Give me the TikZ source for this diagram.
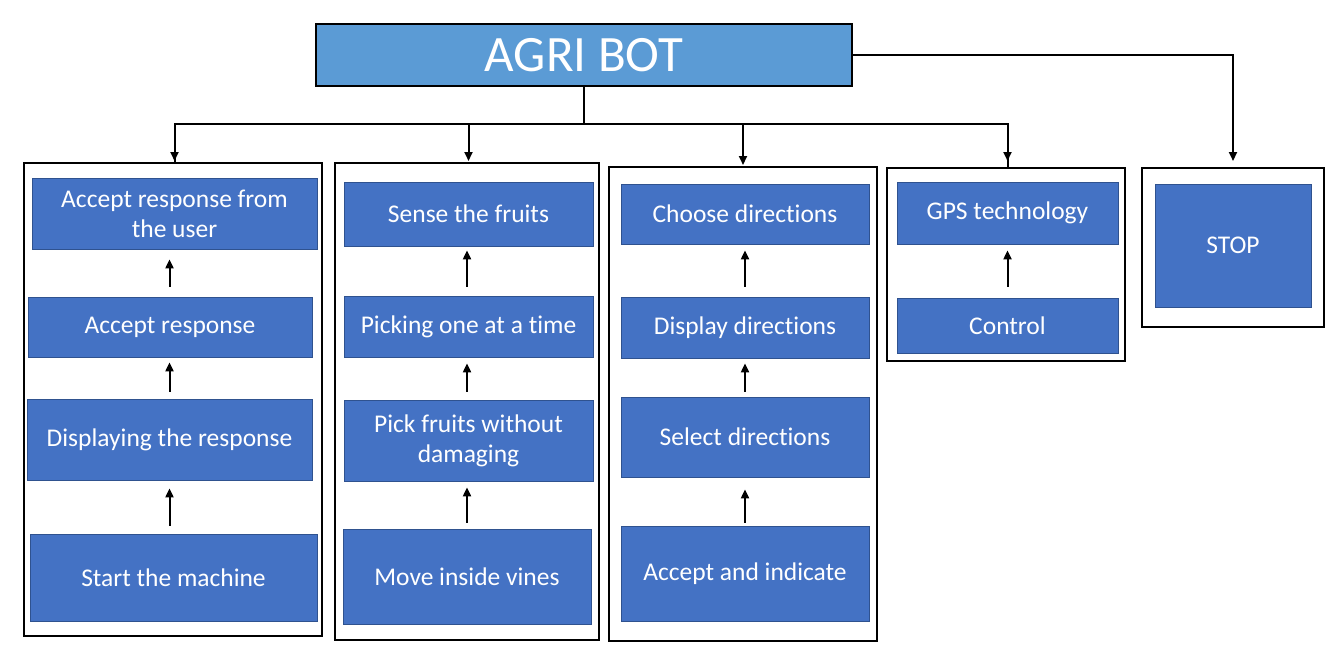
\documentclass[tikz,border=0pt]{standalone}
\usepackage{fontspec}
\setmainfont{Carlito}[Ligatures={NoCommon}]
\usetikzlibrary{arrows.meta}
\definecolor{boxblue}{HTML}{4472C4}
\definecolor{boxedge}{HTML}{2F528F}
\definecolor{titleblue}{HTML}{5B9BD5}
\tikzset{
  blk/.style={draw=boxedge, line width=0.8pt, fill=boxblue, text=white, inner sep=0pt,
    align=center, font=\fontsize{25.5}{30}\selectfont},
  outerbox/.style={draw=black, line width=2pt, inner sep=0pt},
  titlebox/.style={draw=black, line width=2pt, fill=titleblue, text=white, inner sep=0pt,
    font=\fontsize{51}{58}\selectfont},
  conn/.style={draw=black, line width=2pt},
  arr/.style={draw=black, line width=2pt, -{Triangle[length=9pt,width=8pt]}}
}
\begin{document}
\begin{tikzpicture}[x=1pt,y=-1pt]
\useasboundingbox (0,0) rectangle (1334,661);
% title
\node[titlebox, minimum width=536pt, minimum height=62pt] (title) at (584,55) {AGRI BOT};
% outer boxes
\node[outerbox, minimum width=298pt, minimum height=473pt] (o1) at (173,399.5) {};
\node[outerbox, minimum width=264pt, minimum height=477pt] (o2) at (467,401.5) {};
\node[outerbox, minimum width=268pt, minimum height=474pt] (o3) at (743,404) {};
\node[outerbox, minimum width=238pt, minimum height=193pt] (o4) at (1006,264.5) {};
\node[outerbox, minimum width=182pt, minimum height=159pt] (o5) at (1233,247.5) {};
% column 1
\node[blk, minimum width=285pt, minimum height=71pt] (a1) at (174.5,213.5) {Accept response from\\the user};
\node[blk, minimum width=284pt, minimum height=60pt] (a2) at (170,327) {Accept response};
\node[blk, minimum width=285pt, minimum height=81pt] (a3) at (169.5,439.5) {Displaying the response};
\node[blk, minimum width=287pt, minimum height=87pt] (a4) at (173.5,577.5) {Start the machine};
% column 2
\node[blk, minimum width=249pt, minimum height=64pt] (b1) at (468.5,214) {Sense the fruits};
\node[blk, minimum width=249pt, minimum height=61pt] (b2) at (468.5,326.5) {Picking one at a time};
\node[blk, minimum width=249pt, minimum height=81pt] (b3) at (468.5,440.5) {Pick fruits without\\damaging};
\node[blk, minimum width=248pt, minimum height=95pt] (b4) at (467,576.5) {Move inside vines};
% column 3
\node[blk, minimum width=248pt, minimum height=60pt] (c1) at (745,214) {Choose directions};
\node[blk, minimum width=248pt, minimum height=61pt] (c2) at (745,327.5) {Display directions};
\node[blk, minimum width=248pt, minimum height=80pt] (c3) at (745,437) {Select directions};
\node[blk, minimum width=248pt, minimum height=95pt] (c4) at (745,573.5) {Accept and indicate};
% column 4
\node[blk, minimum width=221pt, minimum height=62pt] (d1) at (1007.5,213) {GPS technology};
\node[blk, minimum width=221pt, minimum height=55pt] (d2) at (1007.5,325.5) {Control};
% column 5
\node[blk, minimum width=156pt, minimum height=123pt] (stop) at (1233,245.5) {STOP};
% tree connectors
\coordinate (j) at (584,124);
\draw[conn] (title.south) -- (j);
\draw[conn] (o1.north -| a1.north) |- (j) -| (o4.north -| d1.north);
\draw[arr, shorten >=1pt] (o1.north -| a1.north) ++(0,-39) -- (o1.north -| a1.north);
\draw[arr, shorten >=1pt] (j -| b1.north) -- (o2.north -| b1.north);
\draw[arr, shorten >=1pt] (j -| o3.north) -- (o3.north);
\draw[arr, shorten >=6pt] (j -| d1.north) -- (o4.north -| d1.north);
\draw[arr, shorten >=6pt] (title.east) -| (o5.north -| stop.north);
% column 1 arrows
\draw[arr, shorten <=10pt, shorten >=10pt] (a2.north -| a3.north) -- (a1.south -| a3.north);
\draw[arr, shorten <=7pt, shorten >=5pt] (a3.north) -- (a2.south -| a3.north);
\draw[arr, shorten <=8pt, shorten >=8pt] (a4.north -| a3.north) -- (a3.south);
% column 2 arrows
\draw[arr, shorten <=9pt, shorten >=4pt] (b2.north -| b4.north) -- (b1.south -| b4.north);
\draw[arr, shorten <=8pt, shorten >=6pt] (b3.north -| b4.north) -- (b2.south -| b4.north);
\draw[arr, shorten <=6pt, shorten >=6pt] (b4.north) -- (b3.south -| b4.north);
% column 3 arrows
\draw[arr, shorten <=10pt, shorten >=6pt] (c2.north) -- (c1.south);
\draw[arr, shorten <=5pt, shorten >=5pt] (c3.north) -- (c2.south);
\draw[arr, shorten <=3pt, shorten >=12pt] (c4.north) -- (c3.south);
% column 4 arrow
\draw[arr, shorten <=11pt, shorten >=6pt] (d2.north) -- (d1.south);
\end{tikzpicture}
\end{document}
